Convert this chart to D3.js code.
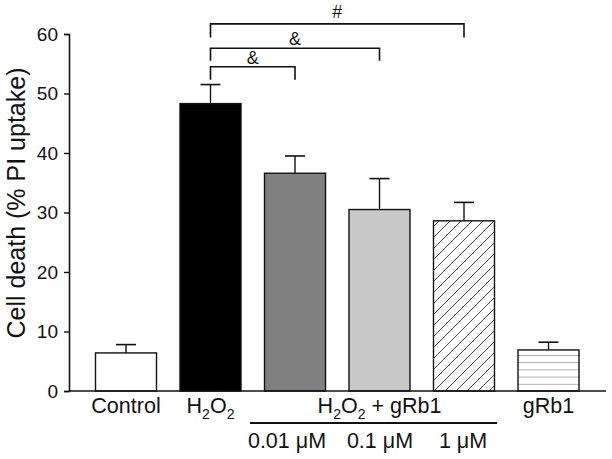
<!DOCTYPE html>
<html>
<head>
<meta charset="utf-8">
<script src="https://cdn.jsdelivr.net/npm/d3@7"></script>
<style>
  body { margin: 0; background: #fff; }
  text { font-family: "Liberation Sans", Arial, sans-serif; fill: #111; }
</style>
</head>
<body>
<div id="chart"></div>
<script>
// data
const groups = ["Control", "H2O2", "0.01", "0.1", "1", "gRb1"];
const means = [6.4, 48.3, 36.6, 30.5, 28.6, 6.9];
const errs = [1.4, 3.2, 2.9, 5.2, 3.1, 1.3];
const fills = ["#fff", "#000", "#808080", "#c8c8c8", "url(#hatch)", "url(#hlines)"];
const yTicks = [0, 10, 20, 30, 40, 50, 60];
const concLabels = ["0.01 \u03bcM", "0.1 \u03bcM", "1 \u03bcM"];
// significance brackets: from group, to group, bracket height, leg length, label
const brackets = [
  {from: "H2O2", to: "0.01", y: 54.5, leg: 2.2, label: "&"},
  {from: "H2O2", to: "0.1", y: 57.6, leg: 2.1, label: "&"},
  {from: "H2O2", to: "1", y: 61.7, leg: 2.3, label: "#"}
];

const W = 612, H = 459;
const svg = d3.select("#chart").append("svg").attr("width", W).attr("height", H);

const defs = svg.append("defs");
const hatch = defs.append("pattern").attr("id", "hatch").attr("patternUnits", "userSpaceOnUse")
  .attr("width", 11).attr("height", 11);
hatch.append("path").attr("d", "M-1,1 l2,-2 M0,11 l11,-11 M10,12 l2,-2")
  .attr("stroke", "#333").attr("stroke-width", 0.9);
const hl = defs.append("pattern").attr("id", "hlines").attr("patternUnits", "userSpaceOnUse")
  .attr("width", 8).attr("height", 7.2).attr("y", 391);
hl.append("line").attr("x1", 0).attr("x2", 8).attr("y1", 0).attr("y2", 0)
  .attr("stroke", "#444").attr("stroke-width", 0.9);

const y = d3.scaleLinear().domain([0, 60]).range([391, 34]);
const x = d3.scaleBand().domain(groups).range([95.5, 579]).paddingInner(0.278).paddingOuter(0);

// y axis
const yAxis = svg.append("g").attr("transform", "translate(69,0)")
  .call(d3.axisLeft(y).tickValues(yTicks).tickSize(5).tickPadding(6));
yAxis.select(".domain").attr("stroke", "#111").attr("stroke-width", 1.6);
yAxis.selectAll(".tick line").attr("stroke", "#111").attr("stroke-width", 1.4);
yAxis.selectAll(".tick text").attr("font-size", 19).attr("fill", "#111")
  .attr("font-family", "Liberation Sans, Arial, sans-serif");

svg.append("text").attr("transform", "translate(25,203) rotate(-90)")
  .attr("text-anchor", "middle").attr("font-size", 25).text("Cell death (% PI uptake)");

// bars
const bar = svg.append("g").selectAll("g").data(groups).join("g");
bar.append("line")
  .attr("x1", d => x(d) + x.bandwidth() / 2).attr("x2", d => x(d) + x.bandwidth() / 2)
  .attr("y1", (d, i) => y(means[i])).attr("y2", (d, i) => y(means[i] + errs[i]))
  .attr("stroke", "#111").attr("stroke-width", 1.4);
bar.append("line")
  .attr("x1", d => x(d) + x.bandwidth() / 2 - 10).attr("x2", d => x(d) + x.bandwidth() / 2 + 10)
  .attr("y1", (d, i) => y(means[i] + errs[i])).attr("y2", (d, i) => y(means[i] + errs[i]))
  .attr("stroke", "#111").attr("stroke-width", 1.6);
bar.append("rect")
  .attr("x", d => x(d)).attr("width", x.bandwidth())
  .attr("y", (d, i) => y(means[i])).attr("height", (d, i) => y(0) - y(means[i]))
  .attr("fill", (d, i) => fills[i]).attr("stroke", "#111").attr("stroke-width", 1.4);

// x axis line
svg.append("line").attr("x1", 69).attr("x2", 606).attr("y1", y(0)).attr("y2", y(0))
  .attr("stroke", "#111").attr("stroke-width", 1.6);

// brackets
const cx = g => x(g) + x.bandwidth() / 2;
const br = svg.append("g").selectAll("g").data(brackets).join("g");
br.append("path")
  .attr("d", d => `M${cx(d.from)},${y(d.y - d.leg)}V${y(d.y)}H${cx(d.to)}V${y(d.y - d.leg)}`)
  .attr("fill", "none").attr("stroke", "#111").attr("stroke-width", 1.6);
br.append("text").attr("x", d => (cx(d.from) + cx(d.to)) / 2)
  .attr("y", d => y(d.y) - (d.label === "#" ? 6 : 3))
  .attr("text-anchor", "middle").attr("font-size", 18).text(d => d.label);

// x labels
const lblY = 413, fs = 21.5, sub = 14;
function h2o2Label(xPos, suffix) {
  const t = svg.append("text").attr("x", xPos).attr("y", lblY).attr("text-anchor", "middle")
    .attr("font-size", fs);
  t.append("tspan").text("H");
  t.append("tspan").attr("font-size", sub).attr("dy", 6).text("2");
  t.append("tspan").attr("dy", -6).text("O");
  t.append("tspan").attr("font-size", sub).attr("dy", 6).text("2");
  if (suffix) t.append("tspan").attr("dy", -6).text(suffix);
}
svg.append("text").attr("x", cx("Control")).attr("y", lblY).attr("text-anchor", "middle")
  .attr("font-size", fs).text("Control");
h2o2Label(cx("H2O2"));
h2o2Label(cx("0.1"), " + gRb1");

svg.append("line").attr("x1", 250).attr("x2", 497).attr("y1", 423).attr("y2", 423)
  .attr("stroke", "#111").attr("stroke-width", 1.8);

svg.append("g").selectAll("text").data(concLabels).join("text")
  .attr("x", (d, i) => [287, 380, 463][i]).attr("y", 448)
  .attr("text-anchor", "middle").attr("font-size", fs).text(d => d);

svg.append("text").attr("x", cx("gRb1")).attr("y", lblY).attr("text-anchor", "middle")
  .attr("font-size", fs).text("gRb1");
</script>
</body>
</html>
